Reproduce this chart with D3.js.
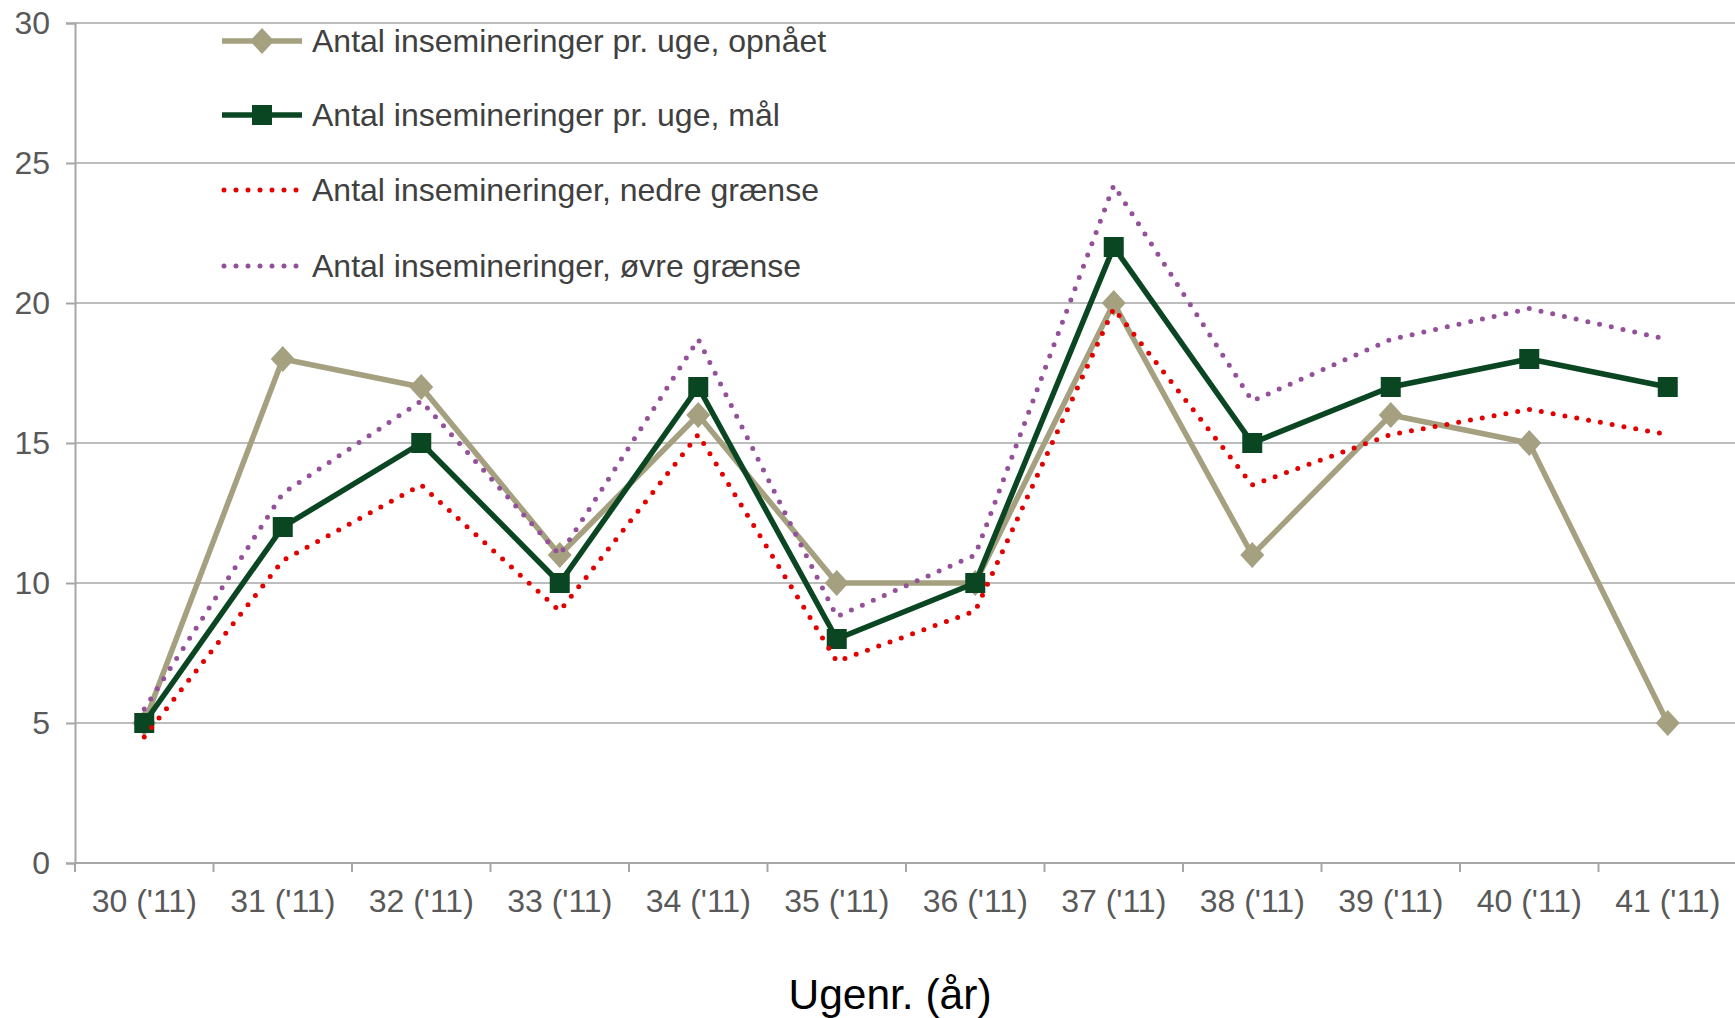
<!DOCTYPE html>
<html>
<head>
<meta charset="utf-8">
<script src="https://cdn.jsdelivr.net/npm/d3@7"></script>
<style>
  html, body { margin: 0; padding: 0; background: #fff; }
  svg { display: block; font-family: "Liberation Sans", Arial, sans-serif; }
</style>
</head>
<body>
<svg id="chart" width="1735" height="1018"></svg>
<script>
const categories = ["30 ('11)", "31 ('11)", "32 ('11)", "33 ('11)", "34 ('11)", "35 ('11)",
                    "36 ('11)", "37 ('11)", "38 ('11)", "39 ('11)", "40 ('11)", "41 ('11)"];
const opnaaet = [5, 18, 17, 11, 16, 10, 10, 20, 11, 16, 15, 5];
const maal    = [5, 12, 15, 10, 17, 8, 10, 22, 15, 17, 18, 17];
const nedre   = [4.5, 10.8, 13.5, 9, 15.3, 7.2, 9, 19.8, 13.5, 15.3, 16.2, 15.3];
const oevre   = [5.5, 13.2, 16.5, 11, 18.7, 8.8, 11, 24.2, 16.5, 18.7, 19.8, 18.7];
const yTicks  = [0, 5, 10, 15, 20, 25, 30];
const seriesNames = ["Antal insemineringer pr. uge, opnået",
                     "Antal insemineringer pr. uge, mål",
                     "Antal insemineringer, nedre grænse",
                     "Antal insemineringer, øvre grænse"];
const xTitle = "Ugenr. (år)";

(function () {
const svg = d3.select("#chart");
const pLeft = 75, pRight = 1737, pTop = 23, pBottom = 863;
const FS = 32;

const x = d3.scaleBand().domain(categories).range([pLeft, pRight]).paddingInner(0).paddingOuter(0);
const y = d3.scaleLinear().domain([0, 30]).range([pBottom, pTop]);
const cx = c => x(c) + x.bandwidth() / 2;

// gridlines
svg.append("g").selectAll("line").data(yTicks.filter(d => d > 0)).join("line")
  .attr("x1", pLeft).attr("x2", 1735)
  .attr("y1", d => y(d)).attr("y2", d => y(d))
  .attr("stroke", "#bdbdbd").attr("stroke-width", 2);

// y axis
const yAxis = svg.append("g").attr("transform", `translate(${pLeft},0)`)
  .call(d3.axisLeft(y).tickValues(yTicks).tickSize(9).tickPadding(16));
yAxis.select(".domain").attr("stroke", "#a6a6a6").attr("stroke-width", 2);
yAxis.selectAll(".tick line").attr("stroke", "#a6a6a6").attr("stroke-width", 2);
yAxis.selectAll(".tick text").attr("fill", "#595959").attr("font-size", FS)
  .attr("font-family", "Liberation Sans, Arial, sans-serif");

// x axis
const xAxis = svg.append("g").attr("transform", `translate(0,${pBottom})`)
  .call(d3.axisBottom(x).tickSize(0).tickPadding(26));
xAxis.select(".domain").attr("stroke", "#a6a6a6").attr("stroke-width", 2)
  .attr("d", `M${pLeft},0H1735`);
xAxis.selectAll(".tick text").attr("fill", "#595959").attr("font-size", FS)
  .attr("font-family", "Liberation Sans, Arial, sans-serif");
// category boundary ticks
const bounds = categories.map(c => x(c)).concat([pRight]);
svg.append("g").selectAll("line").data(bounds).join("line")
  .attr("x1", d => d).attr("x2", d => d)
  .attr("y1", pBottom).attr("y2", pBottom + 9)
  .attr("stroke", "#a6a6a6").attr("stroke-width", 2);

// x title
svg.append("text").attr("x", 890).attr("y", 1009).attr("text-anchor", "middle")
  .attr("font-size", 42.5).attr("fill", "#000").text(xTitle);

const colors = { opn: "#a4a080", maal: "#0b4623", ned: "#e30000", oev: "#94509a" };

const line = d3.line().x((d, i) => cx(categories[i])).y(d => y(d));

// rhombus marker (rotated square, slightly taller than wide)
const rhombus = {
  draw(ctx, size) {
    const w = Math.sqrt(size) * 0.68, h = Math.sqrt(size) * 0.74;
    ctx.moveTo(0, -h); ctx.lineTo(w, 0); ctx.lineTo(0, h); ctx.lineTo(-w, 0); ctx.closePath();
  }
};
const diamond = d3.symbol().type(rhombus).size(310);

// opnået
svg.append("path").attr("d", line(opnaaet)).attr("fill", "none")
  .attr("stroke", colors.opn).attr("stroke-width", 5.5).attr("stroke-linejoin", "round");
svg.append("g").selectAll("path").data(opnaaet).join("path")
  .attr("transform", (d, i) => `translate(${cx(categories[i])},${y(d)})`)
  .attr("d", diamond).attr("fill", colors.opn);

// mål
svg.append("path").attr("d", line(maal)).attr("fill", "none")
  .attr("stroke", colors.maal).attr("stroke-width", 5.5).attr("stroke-linejoin", "round");
const SQ = 20;
svg.append("g").selectAll("rect").data(maal).join("rect")
  .attr("x", (d, i) => cx(categories[i]) - SQ / 2).attr("y", d => y(d) - SQ / 2)
  .attr("width", SQ).attr("height", SQ).attr("fill", colors.maal);

// nedre
svg.append("path").attr("d", line(nedre)).attr("fill", "none")
  .attr("stroke", colors.ned).attr("stroke-width", 5)
  .attr("stroke-linecap", "round").attr("stroke-linejoin", "round").attr("stroke-dasharray", "0 12");

// øvre
svg.append("path").attr("d", line(oevre)).attr("fill", "none")
  .attr("stroke", colors.oev).attr("stroke-width", 5)
  .attr("stroke-linecap", "round").attr("stroke-linejoin", "round").attr("stroke-dasharray", "0 12");

// legend
const legendY = [41, 115, 190, 266];
const lg = svg.append("g");
const keys = ["opn", "maal", "ned", "oev"];
keys.forEach((k, i) => {
  const yy = legendY[i];
  const ln = lg.append("line").attr("x1", 222).attr("x2", 302).attr("y1", yy).attr("y2", yy)
    .attr("stroke", colors[k]);
  if (k === "opn") {
    ln.attr("stroke-width", 5.5);
    lg.append("path").attr("transform", `translate(262,${yy})`).attr("d", diamond).attr("fill", colors.opn);
  } else if (k === "maal") {
    ln.attr("stroke-width", 5.5);
    lg.append("rect").attr("x", 262 - SQ / 2).attr("y", yy - SQ / 2).attr("width", SQ).attr("height", SQ)
      .attr("fill", colors.maal);
  } else {
    ln.attr("x1", 224).attr("x2", 298).attr("stroke-width", 5)
      .attr("stroke-linecap", "round").attr("stroke-dasharray", "0 12");
  }
  lg.append("text").attr("x", 312).attr("y", yy).attr("dy", "0.35em")
    .attr("font-size", FS).attr("fill", "#404040").text(seriesNames[i]);
});
})();
</script>
</body>
</html>
